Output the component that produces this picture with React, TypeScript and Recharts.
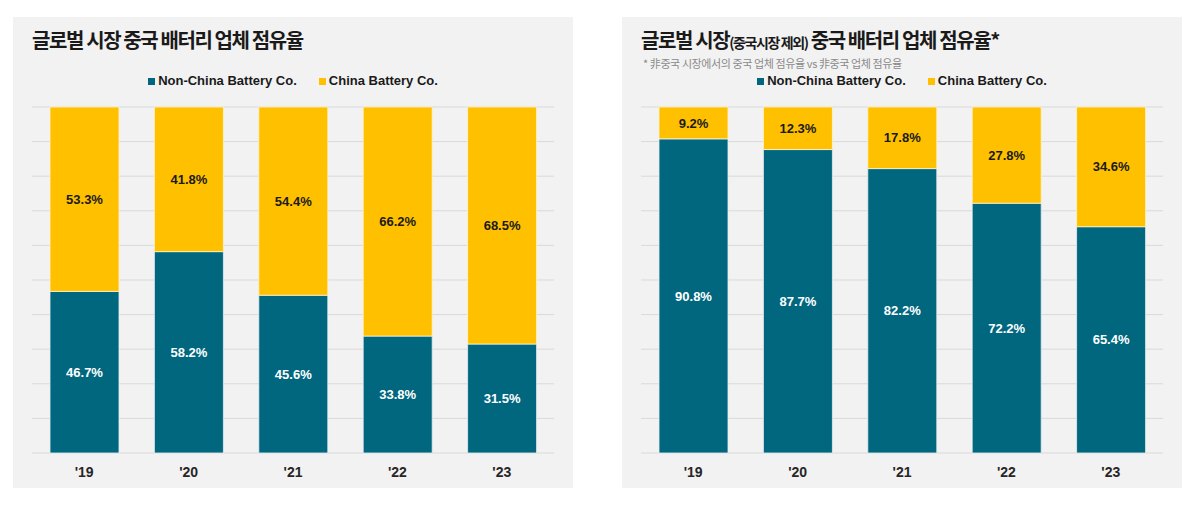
import React from "react"
import { Bar, BarChart, CartesianGrid, LabelList, Legend, XAxis, YAxis } from "recharts"

const years = ["'19", "'20", "'21", "'22", "'23"]
const globalNonChina = [46.7, 58.2, 45.6, 33.8, 31.5]
const globalChina = [53.3, 41.8, 54.4, 66.2, 68.5]
const exChinaNonChina = [90.8, 87.7, 82.2, 72.2, 65.4]
const exChinaChina = [9.2, 12.3, 17.8, 27.8, 34.6]
const yTicks = [0, 10, 20, 30, 40, 50, 60, 70, 80, 90, 100]
const edgeTicks = [0, 1, 2, 3, 4, 5]

const TEAL = "#00677f"
const GOLD = "#ffc000"
const FONT = "'Liberation Sans', Arial, 'Noto Sans CJK KR', sans-serif"
const KFONT = "'Noto Sans CJK KR', 'Liberation Sans', sans-serif"

const legendItems = [
  { name: "Non-China Battery Co.", color: TEAL },
  { name: "China Battery Co.", color: GOLD },
]

function LegendRow() {
  return (
    <div style={{ display: "flex", justifyContent: "center", gap: 22, height: 18, lineHeight: "18px", fontFamily: FONT, fontWeight: 700, fontSize: 13, color: "#1a1a1a" }}>
      {legendItems.map((it) => (
        <span key={it.name} style={{ display: "flex", alignItems: "center" }}>
          <span style={{ width: 7, height: 7, background: it.color, marginRight: 3, display: "inline-block" }} />
          {it.name}
        </span>
      ))}
    </div>
  )
}

function SharePanel({ x, title, subtitle, nonChina, china }: { x: number; title: React.ReactNode; subtitle?: string; nonChina: number[]; china: number[] }) {
  const data = years.map((year, i) => ({ year, nonChina: nonChina[i], china: china[i] }))
  const fmt = (v: any) => `${Number(v).toFixed(1)}%`
  return (
    <div style={{ position: "absolute", left: x, top: 17, width: 560, height: 471, background: "#f2f2f2" }}>
      <div style={{ position: "absolute", left: 19, top: 12, height: 22, lineHeight: "22px", fontFamily: KFONT, fontWeight: 700, fontSize: 20, letterSpacing: -1.4, color: "#1a1a1a", whiteSpace: "nowrap" }}>
        {title}
      </div>
      {subtitle && (
        <div style={{ position: "absolute", left: 21, top: 40, height: 13, lineHeight: "13px", fontFamily: KFONT, fontSize: 11, letterSpacing: -0.4, color: "#8a8a8a", whiteSpace: "nowrap" }}>
          {subtitle}
        </div>
      )}
      <BarChart width={560} height={471} data={data} margin={{ top: 72, right: 19, bottom: 0, left: 19 }} barSize={69}>
        <CartesianGrid vertical={false} stroke="#d9d9d9" strokeWidth={1} />
        <YAxis hide domain={[0, 100]} ticks={yTicks} />
        <XAxis xAxisId="edge" type="number" domain={[0, 5]} ticks={edgeTicks} tick={false} height={0} axisLine={{ stroke: "#d0d0d0" }} tickLine={{ stroke: "#d0d0d0" }} tickSize={5} />
        <XAxis dataKey="year" height={35} axisLine={false} tickLine={false} tickMargin={8} tick={{ fill: "#262626", fontSize: 14, fontWeight: 700, fontFamily: FONT }} />
        <Legend verticalAlign="top" wrapperStyle={{ top: 55 }} content={() => <LegendRow />} />
        <Bar dataKey="nonChina" stackId="s" fill={TEAL} stroke="#e8f0f2" strokeWidth={0.8} isAnimationActive={false}>
          <LabelList dataKey="nonChina" position="center" formatter={fmt} fill="#ffffff" style={{ fontFamily: FONT, fontWeight: 700, fontSize: 13 }} />
        </Bar>
        <Bar dataKey="china" stackId="s" fill={GOLD} stroke="#fff4d0" strokeWidth={0.8} isAnimationActive={false}>
          <LabelList dataKey="china" position="center" formatter={fmt} fill="#1a1a1a" style={{ fontFamily: FONT, fontWeight: 700, fontSize: 13 }} />
        </Bar>
      </BarChart>
    </div>
  )
}

export default function App() {
  return (
    <div style={{ position: "absolute", left: 0, top: 0, width: 1200, height: 506, background: "#fff" }}>
      <SharePanel
        x={13}
        title="글로벌 시장 중국 배터리 업체 점유율"
        nonChina={globalNonChina}
        china={globalChina}
      />
      <SharePanel
        x={622}
        title={
          <>
            글로벌 시장<span style={{ fontSize: 14 }}>(중국시장 제외)</span> 중국 배터리 업체 점유율*
          </>
        }
        subtitle="* 非중국 시장에서의 중국 업체 점유율 vs 非중국 업체 점유율"
        nonChina={exChinaNonChina}
        china={exChinaChina}
      />
    </div>
  )
}
